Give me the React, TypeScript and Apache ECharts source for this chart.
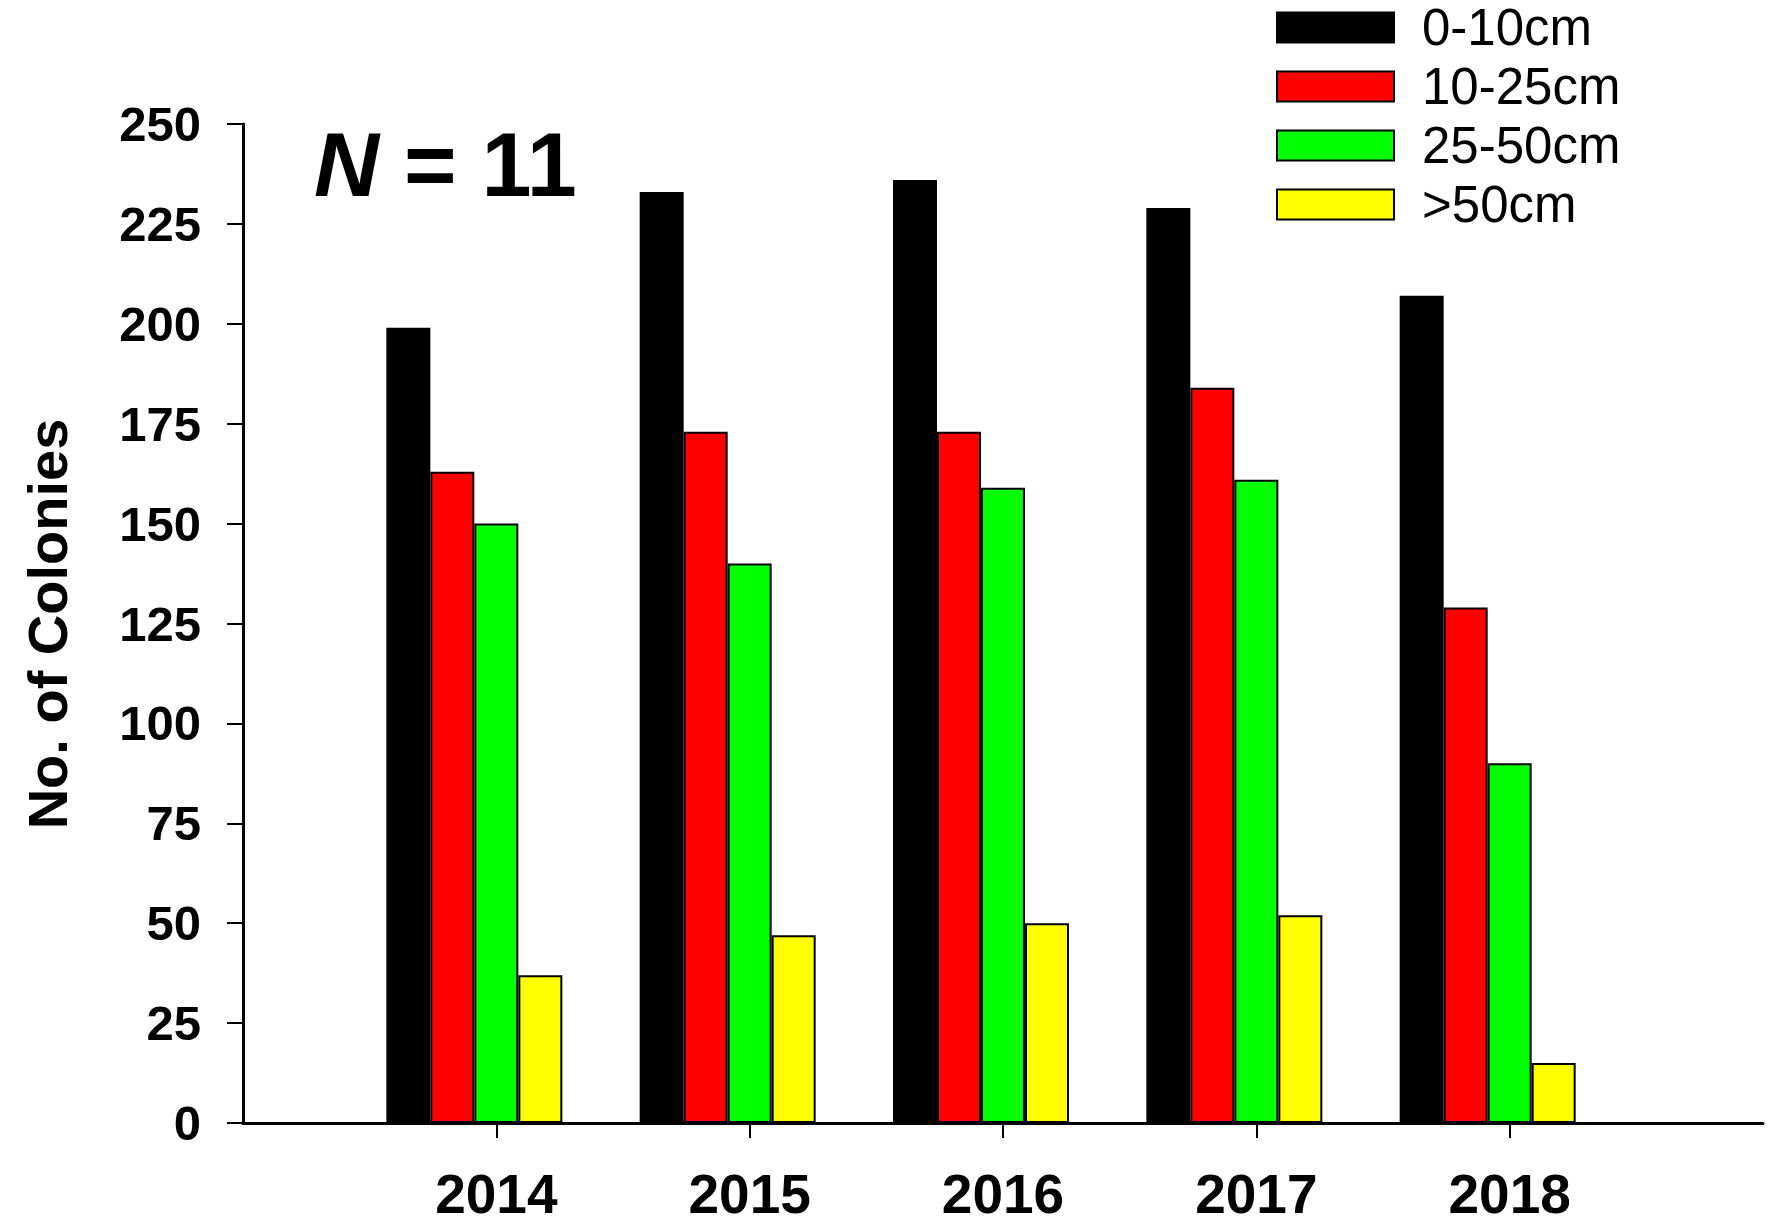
import React, { useEffect, useRef } from 'react';
import * as echarts from 'echarts';

const categories = ['', '2014', '2015', '2016', '2017', '2018', ''];
const seriesNames = ['0-10cm', '10-25cm', '25-50cm', '>50cm'];
const seriesColors = ['#000000', '#ff0000', '#00ff00', '#ffff00'];
const s0to10 = [199, 233, 236, 229, 207];
const s10to25 = [163, 173, 173, 184, 129];
const s25to50 = [150, 140, 159, 161, 90];
const sOver50 = [37, 47, 50, 52, 15];
const seriesValues = [s0to10, s10to25, s25to50, sOver50];

const FONT = '"Liberation Sans", Arial, Helvetica, sans-serif';

export default function App() {
  const ref = useRef<HTMLDivElement>(null);
  useEffect(() => {
    document.body.style.margin = '0';
    const chart = echarts.init(ref.current!, null, { renderer: 'svg' });
    const pad = (arr: number[]) => [null, ...arr, null];
    const series: any[] = seriesValues.map((vals, i) => ({
      name: seriesNames[i],
      type: 'bar',
      data: pad(vals),
      barWidth: 44,
      barGap: '0%',
      itemStyle: { color: seriesColors[i], borderColor: '#000', borderWidth: 2 },
    }));
    // empty fifth slot of each group (the reference leaves it blank)
    series.push({
      name: 'blank',
      type: 'bar',
      data: categories.map(() => null),
      barWidth: 44,
      barGap: '0%',
      itemStyle: { color: 'transparent' },
    });
    chart.setOption({
      animation: false,
      backgroundColor: '#ffffff',
      textStyle: { fontFamily: FONT },
      grid: { left: 243, right: 7, top: 124, bottom: 101, containLabel: false },
      legend: {
        data: seriesNames,
        orient: 'vertical',
        left: 1276,
        top: 2,
        padding: 0,
        itemWidth: 117,
        itemHeight: 30,
        itemGap: 8,
        icon: 'rect',
        textStyle: {
          fontSize: 51,
          color: '#000',
          fontFamily: FONT,
          padding: [0, 0, 0, 23],
        },
      },
      xAxis: {
        type: 'category',
        data: categories,
        boundaryGap: false,
        axisLine: { lineStyle: { color: '#000', width: 3 } },
        axisTick: {
          show: true,
          length: 15,
          lineStyle: { color: '#000', width: 2 },
          interval: (index: number) => index >= 1 && index <= 5,
        },
        axisLabel: {
          interval: 0,
          margin: 46,
          fontSize: 55,
          lineHeight: 50,
          fontWeight: 'bold',
          color: '#000',
          fontFamily: FONT,
        },
        splitLine: { show: false },
      },
      yAxis: {
        type: 'value',
        min: 0,
        max: 250,
        interval: 25,
        axisLine: { show: true, lineStyle: { color: '#000', width: 3 } },
        axisTick: { show: true, length: 16, lineStyle: { color: '#000', width: 2 } },
        axisLabel: {
          margin: 42,
          fontSize: 49,
          fontWeight: 'bold',
          color: '#000',
          fontFamily: FONT,
        },
        splitLine: { show: false },
      },
      graphic: [
        {
          type: 'text',
          x: 47,
          y: 624,
          rotation: Math.PI / 2,
          style: {
            text: 'No. of Colonies',
            fontSize: 56,
            fontWeight: 'bold',
            fontFamily: FONT,
            fill: '#000',
            textAlign: 'center',
            textVerticalAlign: 'middle',
          },
        },
        {
          type: 'text',
          x: 314,
          y: 165,
          style: {
            text: '{i|N}{b| = 11}',
            fill: '#000',
            textAlign: 'left',
            textVerticalAlign: 'middle',
            rich: {
              i: { fontSize: 90, fontWeight: 'bold', fontStyle: 'italic', fontFamily: FONT, fill: '#000' },
              b: { fontSize: 90, fontWeight: 'bold', fontFamily: FONT, fill: '#000' },
            },
          },
        },
      ],
      series,
    });
    return () => chart.dispose();
  }, []);
  return (
    <div
      ref={ref}
      style={{ position: 'absolute', left: 0, top: 0, width: 1770, height: 1224 }}
    />
  );
}
